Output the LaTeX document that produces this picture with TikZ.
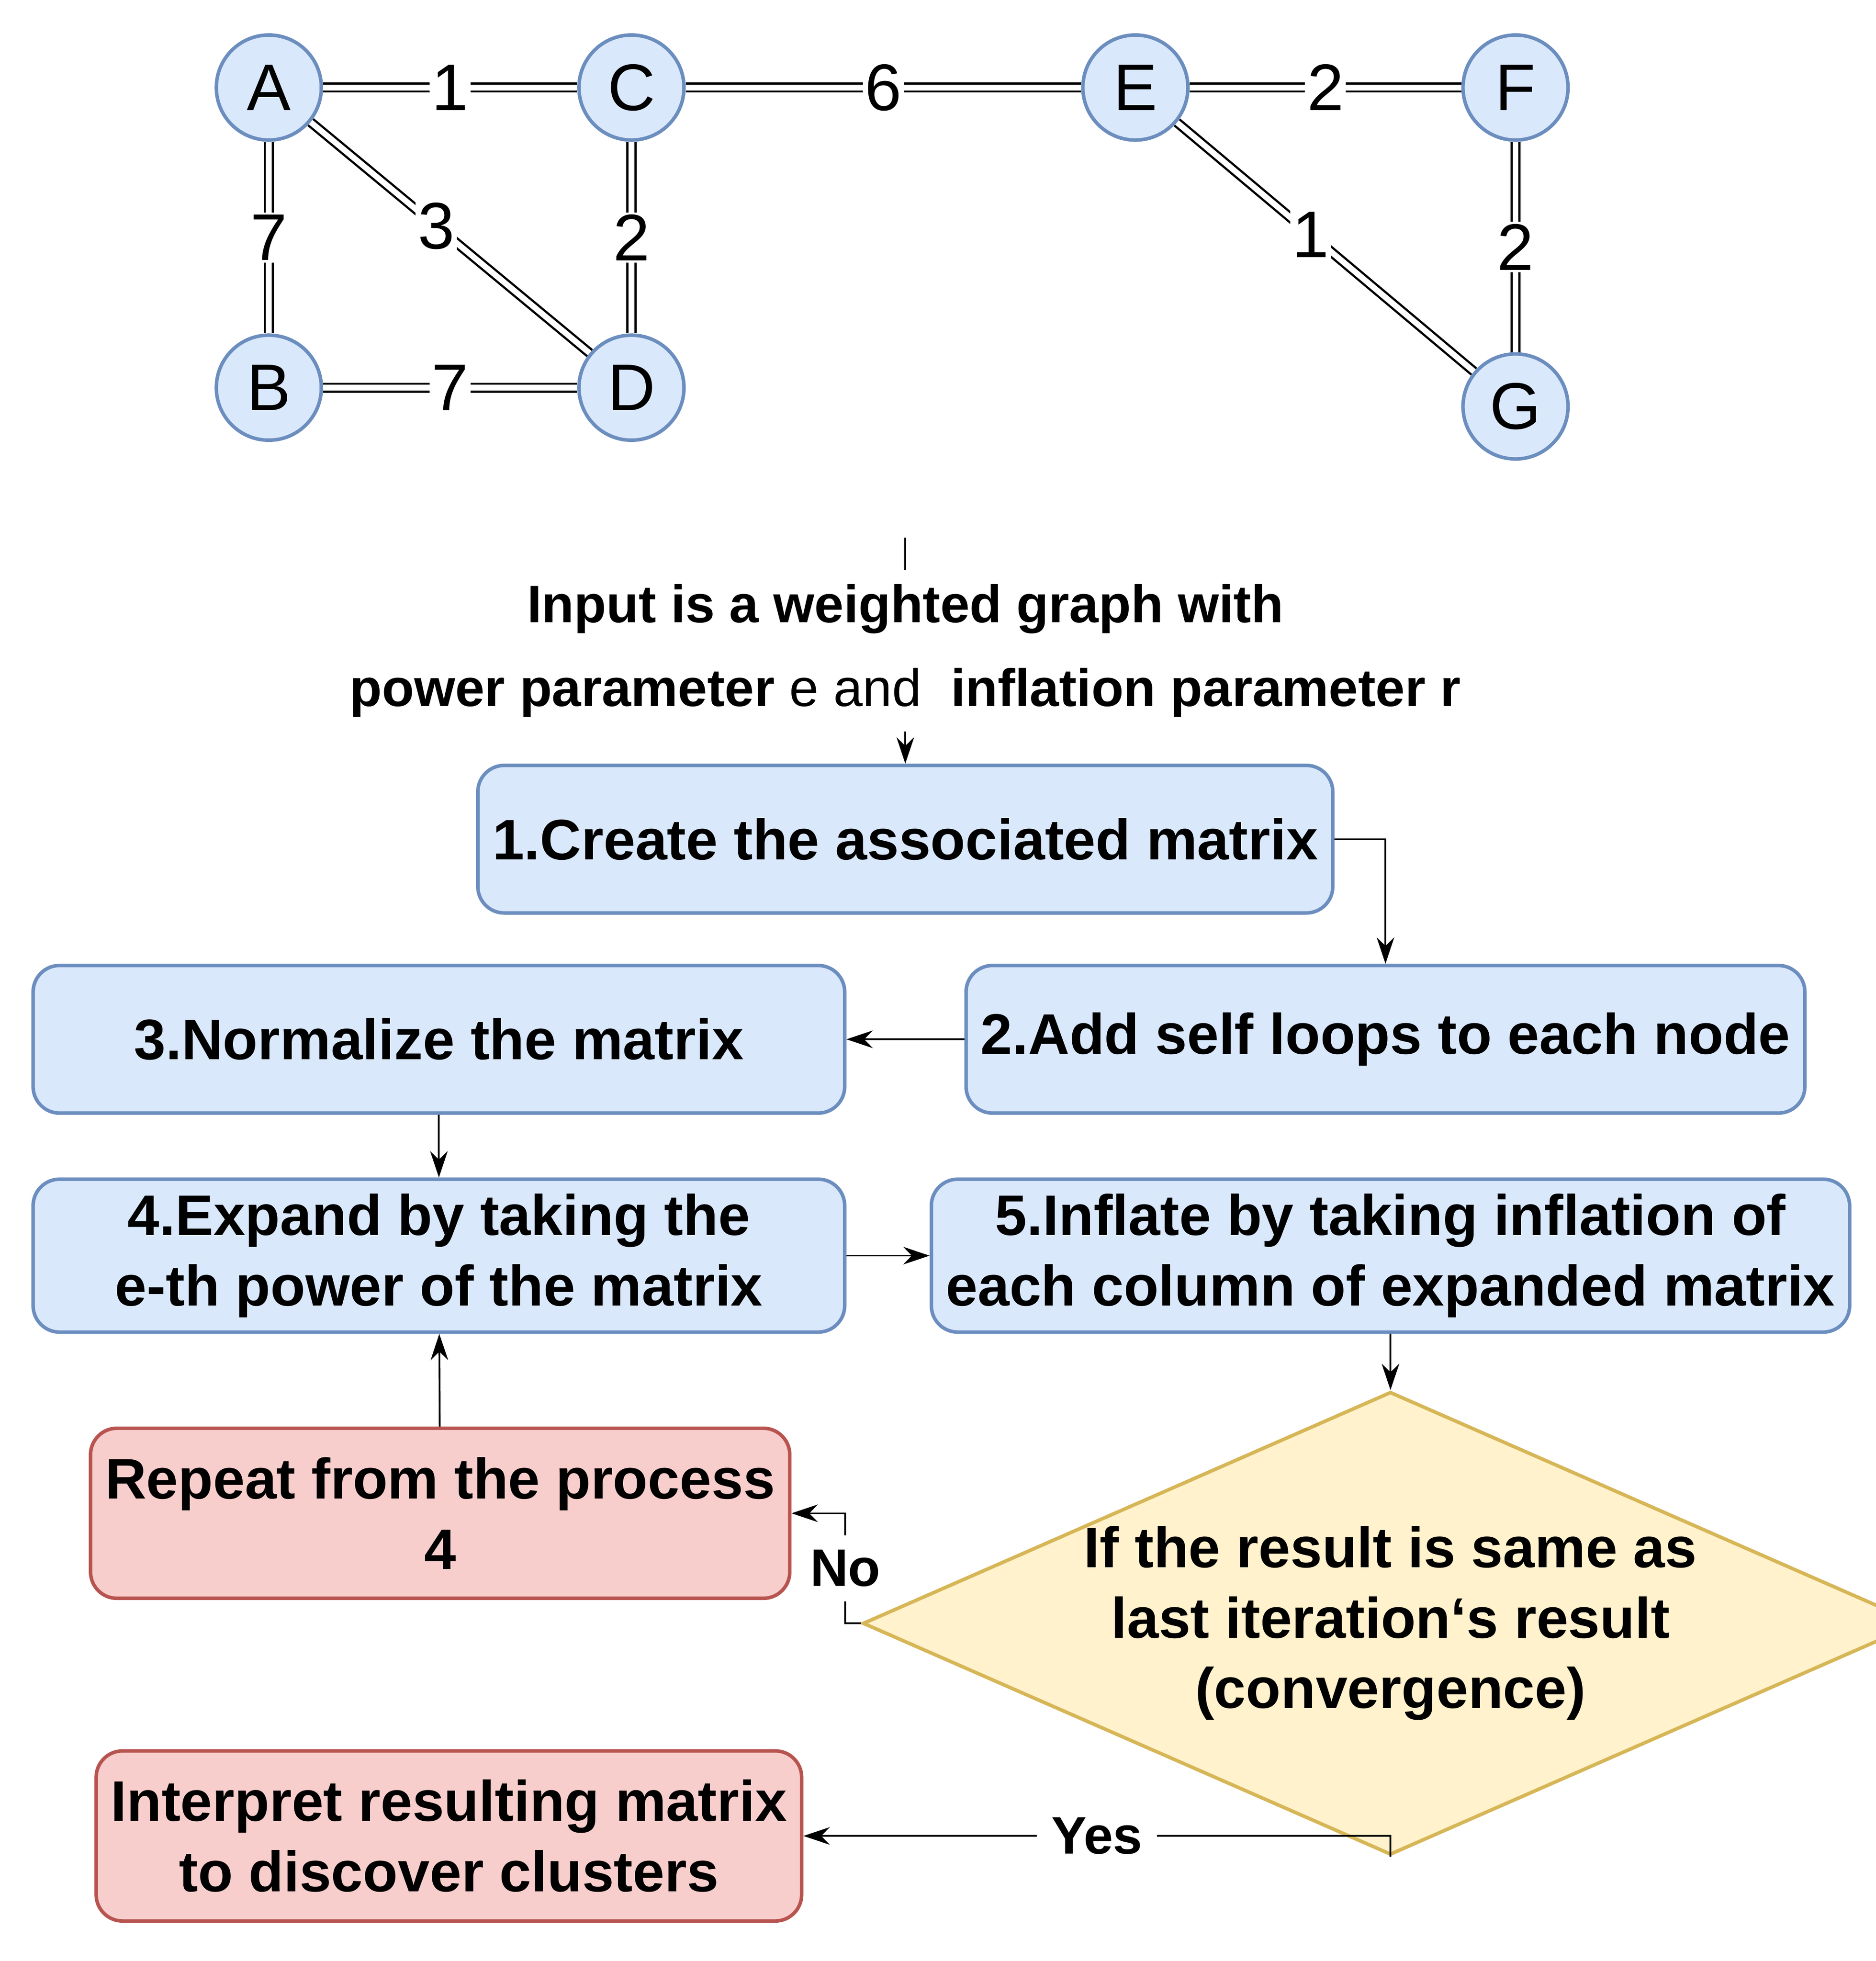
\documentclass[tikz,border=0pt]{standalone}
\usepackage{fontspec}
\setmainfont{Liberation Sans}
\usetikzlibrary{shapes.geometric,arrows.meta,positioning}
\definecolor{bluefill}{HTML}{DAE8FC}
\definecolor{bluedraw}{HTML}{6C8EBF}
\definecolor{redfill}{HTML}{F8CECC}
\definecolor{reddraw}{HTML}{B85450}
\definecolor{yelfill}{HTML}{FFF2CC}
\definecolor{yeldraw}{HTML}{D6B656}
\tikzset{
vert/.style={draw=bluedraw, fill=bluefill, thick, circle, minimum size=0.84cm, inner sep=0pt, font=\fontsize{15}{15}\selectfont},
wedge/.style={double=white, draw=black, double distance=1.3pt, line width=0.5pt},
wlabel/.style={fill=white, inner sep=0.5pt, font=\fontsize{15}{15}\selectfont},
procbox/.style={draw=bluedraw, fill=bluefill, thick, rectangle, rounded corners=6pt, minimum height=1.18cm, align=center, font=\bfseries\fontsize{13}{16}\selectfont},
endbox/.style={draw=reddraw, fill=redfill, thick, rectangle, rounded corners=6pt, minimum height=1.36cm, minimum width=4.86cm, align=center, font=\bfseries\fontsize{13}{16}\selectfont},
flow/.style={-{Stealth[length=6pt,width=4pt]}, thin},
}
\begin{document}
\begin{tikzpicture}
\useasboundingbox (0,0) rectangle (15,-15.68);
% graph
\node[vert] (A) at (2.15,-0.70) {A};
\node[vert] (C) at (5.05,-0.70) {C};
\node[vert] (E) at (9.08,-0.70) {E};
\node[vert] (F) at (12.12,-0.70) {F};
\node[vert] (B) at (2.15,-3.10) {B};
\node[vert] (D) at (5.05,-3.10) {D};
\node[vert] (G) at (12.12,-3.25) {G};
\draw[wedge] (A) -- node[wlabel] {1} (C);
\draw[wedge] (C) -- node[wlabel] {6} (E);
\draw[wedge] (E) -- node[wlabel] {2} (F);
\draw[wedge] (A) -- node[wlabel] {7} (B);
\draw[wedge] (A) -- node[wlabel, pos=0.45] {3} (D);
\draw[wedge] (C) -- node[wlabel] {2} (D);
\draw[wedge] (B) -- node[wlabel] {7} (D);
\draw[wedge] (E) -- node[wlabel, pos=0.45] {1} (G);
\draw[wedge] (F) -- node[wlabel] {2} (G);

% flow chart
\node[procbox, minimum width=6.48cm] (s1) at (7.24,-6.71) {1.Create the associated matrix};
\node[procbox, minimum width=6.43cm] (s2) at (11.08,-8.31) {2.Add self loops to each node};
\node[procbox, minimum width=6.49cm] (s3) at (3.51,-8.31) {3.Normalize the matrix};
\node[procbox, minimum width=6.49cm] (s4) at (3.51,-10.04) {4.Expand by taking the\\e-th power of the matrix};
\node[procbox, minimum width=6.50cm] (s5) at (11.12,-10.04) {5.Inflate by taking inflation of\\each column of expanded matrix};
\node[draw=yeldraw, fill=yelfill, thick, diamond, aspect=2.28, minimum width=7.15cm, minimum height=3.13cm, inner sep=0pt, align=center, font=\bfseries\fontsize{13}{16}\selectfont] (cv) at (11.12,-12.98) {If the result is same as\\last iteration‘s result\\(convergence)};
\node[endbox] (rep) at (3.52,-12.10) {Repeat from the process\\4};
\node[endbox] (res) at (3.59,-14.68) {Interpret resulting matrix\\to discover clusters};

\coordinate (in) at (7.24,-4.30);
\draw[flow] (in) -- node[fill=white, align=center, font=\bfseries\fontsize{12}{19}\selectfont] {Input is a weighted graph with\\power parameter {\mdseries e and}\ \ inflation parameter r} (s1);
\draw[flow] (s1.east) -| (s2.north);
\draw[flow] (s2) -- (s3);
\draw[flow] (s3) -- (s4);
\draw[flow] (s4) -- (s5);
\draw[flow] (s5.south) -- (cv.north);
\draw[flow] (cv.west) -| node[pos=0.75, fill=white, font=\bfseries\fontsize{12}{14}\selectfont] {No} (6.76,-12.10) -- (rep.east);
\draw[flow] (rep) -- (s4);
\draw[flow] (cv.south) |- node[pos=0.75, fill=white, font=\bfseries\fontsize{12}{14}\selectfont] {Yes} (res.east);
\end{tikzpicture}
\end{document}
